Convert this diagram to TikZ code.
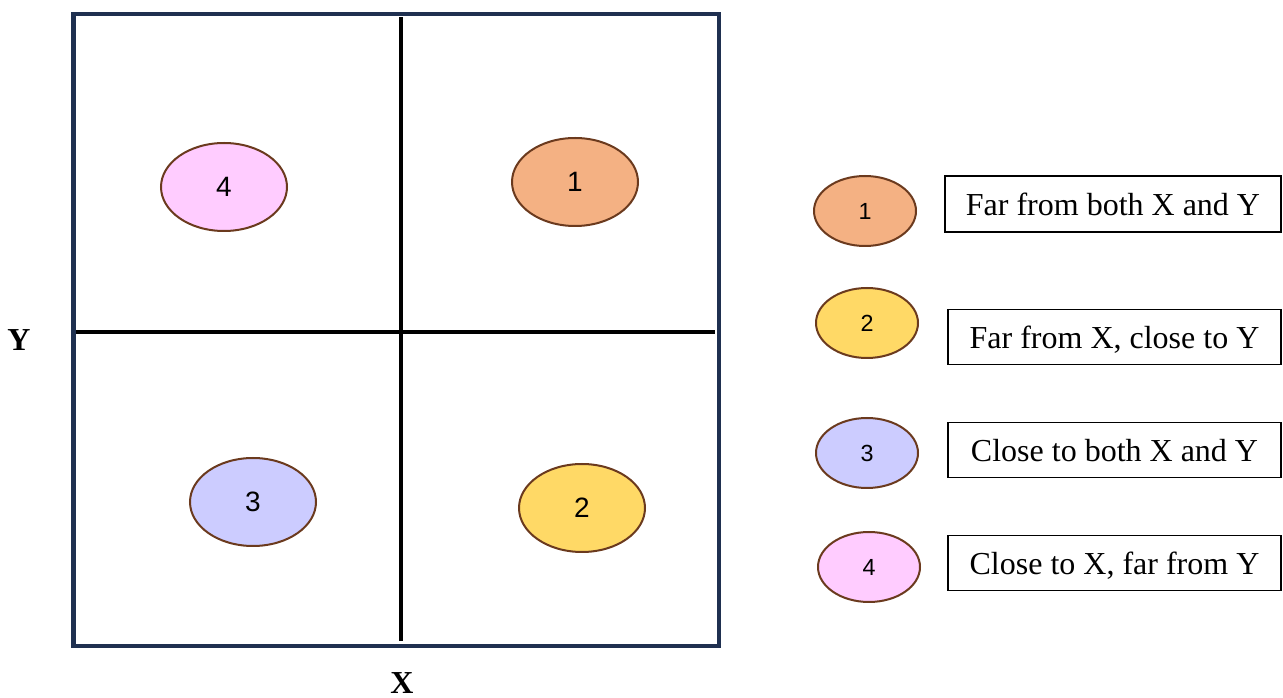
\documentclass[tikz,border=0pt]{standalone}
\usepackage{fontspec}
\setmainfont{Liberation Serif}
\newfontfamily\numfont{Liberation Sans}
\usetikzlibrary{shapes.geometric}
\definecolor{framenavy}{HTML}{1F3050}
\definecolor{ebrown}{HTML}{6B3A1E}
\definecolor{fone}{HTML}{F4B183}
\definecolor{ftwo}{HTML}{FFD966}
\definecolor{fthree}{HTML}{CCCCFF}
\definecolor{ffour}{HTML}{FFCCFF}
\tikzset{
  bigell/.style={ellipse, draw=ebrown, line width=1.5pt, minimum width=94.5pt, minimum height=66pt, inner sep=0pt, font=\numfont\fontsize{21}{24}\selectfont},
  smallell/.style={ellipse, draw=ebrown, line width=1.5pt, minimum width=76.5pt, minimum height=52.5pt, inner sep=0pt, font=\numfont\fontsize{17.5}{20}\selectfont},
  legbox/.style={draw=black, line width=0.9pt, minimum width=249.75pt, minimum height=41pt, inner sep=0pt, text depth=0pt, font=\fontsize{24}{26}\selectfont},
  axislabel/.style={font=\bfseries\fontsize{24}{26}\selectfont, inner sep=0pt},
  divider/.style={line width=3pt, black},
  frameline/.style={line width=3.6pt, framenavy}
}
\begin{document}
\begin{tikzpicture}[x=0.75pt, y=-0.75pt]
\useasboundingbox (0,0) rectangle (1283,698);
% frame
\draw[frameline] (73.5,14) rectangle (719,646);
% dividers
\coordinate (vt) at (400.5,17);
\coordinate (vb) at (400.5,641);
\coordinate (hl) at (76,332);
\coordinate (hr) at (715,332);
\draw[divider] (vt) -- (vb);
\draw[divider] (hl) -- (hr);
% axis labels
\node[axislabel] (ylab) at (19,340) {Y};
\node[axislabel] (xlab) at (402,683) {X};
% quadrant ellipses
\node[bigell, fill=ffour] (q4) at (224,187) {4};
\node[bigell, fill=fone] (q1) at (575,182) {1};
\node[bigell, fill=fthree] (q3) at (253,502) {3};
\node[bigell, fill=ftwo] (q2) at (582,508) {2};
% legend ellipses
\node[smallell, fill=fone] (l1) at (865,211) {1};
\node[smallell, fill=ftwo] (l2) at (867,323) {2};
\node[smallell, fill=fthree] (l3) at (867,453) {3};
\node[smallell, fill=ffour] (l4) at (869,567) {4};
% legend boxes
\node[legbox, minimum width=252pt, minimum height=42pt] (b1) at (1113,204) {Far from both X and Y};
\node[legbox] (b2) at (1114.5,337) {Far from X, close to Y};
\node[legbox] (b3) at (1114.5,450) {Close to both X and Y};
\node[legbox] (b4) at (1114.5,563) {Close to X, far from Y};
\end{tikzpicture}
\end{document}
